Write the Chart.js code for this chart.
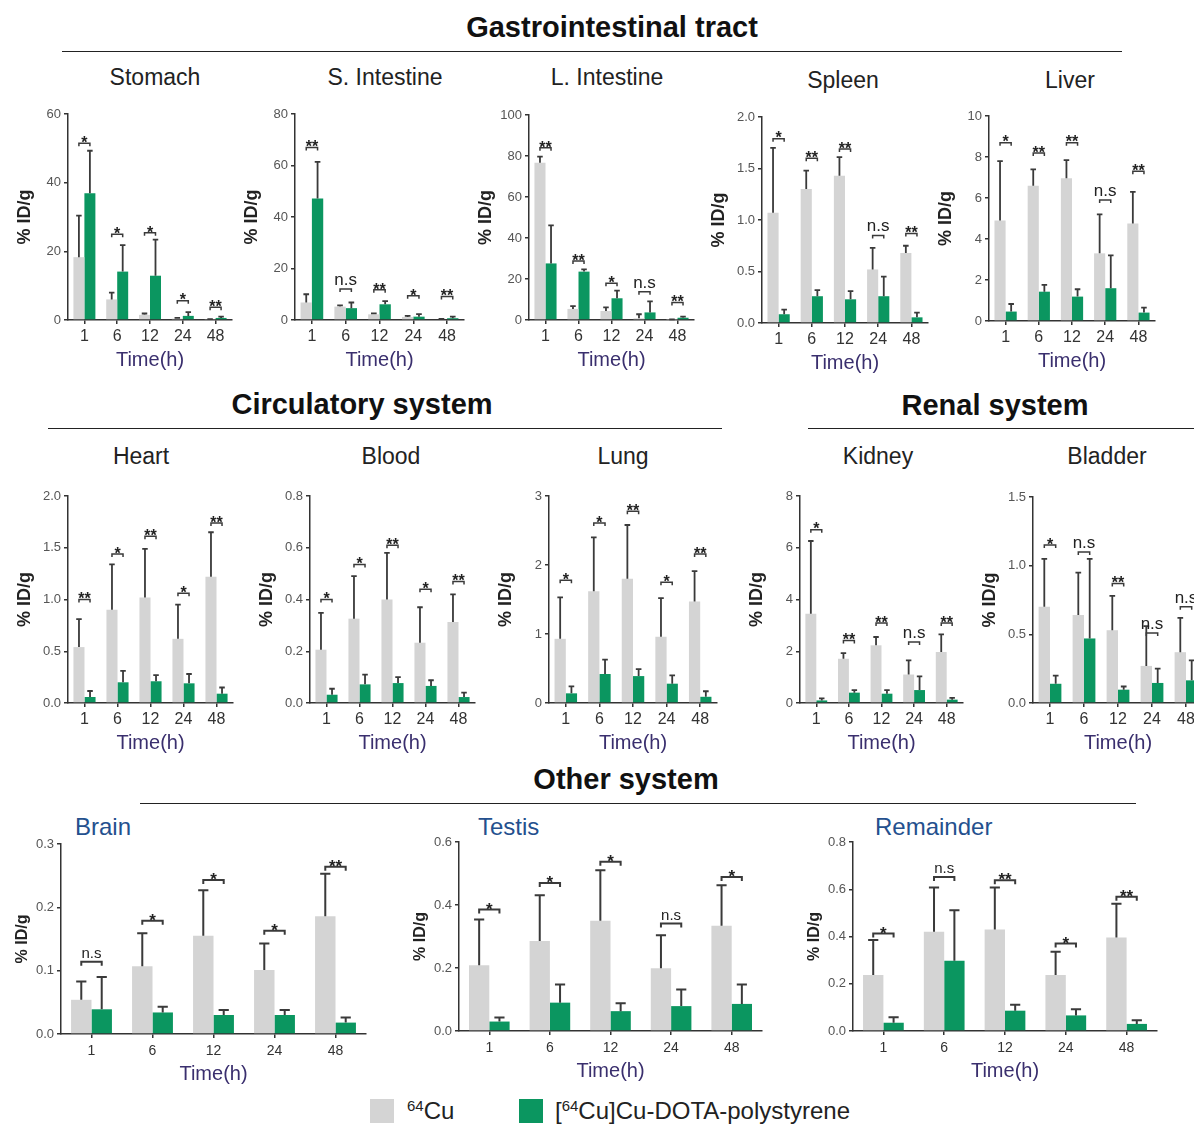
<!DOCTYPE html>
<html>
<head>
<meta charset="utf-8">
<script src="https://cdn.jsdelivr.net/npm/chart.js@4.4.0/dist/chart.umd.min.js"></script>
<style>
body { margin:0; width:1194px; height:1127px; overflow:hidden; background:#fff; position:relative; font-family:"Liberation Sans", Arial, sans-serif; }
canvas { position:absolute; }
.sec { position:absolute; font-weight:bold; font-size:29px; color:#111; transform:translate(-50%,-50%); white-space:nowrap; }
.rule { position:absolute; height:0; border-top:1.5px solid #222; }
.pt { position:absolute; font-size:23px; color:#222; transform:translate(-50%,-50%); white-space:nowrap; }
.pt3 { position:absolute; font-size:24px; color:#24508e; transform:translateY(-50%); white-space:nowrap; }
.leg { position:absolute; top:1099px; width:24px; height:24px; }
.legt { position:absolute; top:1097px; font-size:24px; color:#222; white-space:nowrap; }
.legt sup { font-size:15px; vertical-align:8px; line-height:0; }
</style>
</head>
<body>

<div class="sec" style="left:612px;top:27px">Gastrointestinal tract</div>
<div class="rule" style="left:62px;top:51px;width:1060px"></div>
<div class="sec" style="left:362px;top:404px">Circulatory system</div>
<div class="rule" style="left:48px;top:428px;width:674px"></div>
<div class="sec" style="left:995px;top:405px">Renal system</div>
<div class="rule" style="left:808px;top:428px;width:386px"></div>
<div class="sec" style="left:626px;top:779px">Other system</div>
<div class="rule" style="left:140px;top:803px;width:996px"></div>

<div class="leg" style="left:370px;background:#d4d4d4"></div>
<div class="legt" style="left:407px"><sup>64</sup>Cu</div>
<div class="leg" style="left:519px;background:#0b9660"></div>
<div class="legt" style="left:555px">[<sup>64</sup>Cu]Cu-DOTA-polystyrene</div>

<script>
// time points (h)
const times = ['1', '6', '12', '24', '48'];

// mean %ID/g, upper SD, significance label and bracket height per organ
const stomachCu = [18.3, 6.0, 1.5, 0.4, 0.15];
const stomachCuSd = [12.1, 2.0, 0.4, 0.2, 0.1];
const stomachPs = [36.9, 14.1, 12.9, 1.2, 0.6];
const stomachPsSd = [12.4, 7.7, 10.5, 1.1, 0.4];
const stomachSig = ['*', '*', '*', '*', '**'];
const stomachSigY = [51.5, 25, 25.4, 5.6, 3.7];

const sintCu = [6.8, 5.2, 2.2, 1.2, 0.3];
const sintCuSd = [3.2, 0.5, 0.4, 0.4, 0.1];
const sintPs = [47.2, 4.6, 6.1, 1.3, 0.7];
const sintPsSd = [14.2, 2.2, 1.2, 1.0, 0.6];
const sintSig = ['**', 'n.s', '**', '*', '**'];
const sintSigY = [67, 12, 11.7, 9.4, 9.1];

const lintCu = [76.7, 5.4, 4.4, 0.8, 0.2];
const lintCuSd = [3.0, 1.4, 1.8, 2.0, 0.1];
const lintPs = [27.6, 23.6, 10.6, 3.7, 1.1];
const lintPsSd = [18.6, 1.1, 3.7, 5.4, 0.5];
const lintSig = ['**', '**', '*', 'n.s', '**'];
const lintSigY = [84, 28.8, 17.9, 13.8, 8.5];

const spleenCu = [1.07, 1.30, 1.43, 0.52, 0.68];
const spleenCuSd = [0.63, 0.18, 0.18, 0.21, 0.07];
const spleenPs = [0.085, 0.26, 0.23, 0.26, 0.055];
const spleenPsSd = [0.045, 0.06, 0.08, 0.19, 0.045];
const spleenSig = ['*', '**', '**', 'n.s', '**'];
const spleenSigY = [1.79, 1.60, 1.69, 0.85, 0.87];

const liverCu = [4.9, 6.6, 6.96, 3.3, 4.76];
const liverCuSd = [2.9, 0.8, 0.89, 1.9, 1.54];
const liverPs = [0.46, 1.43, 1.19, 1.6, 0.41];
const liverPsSd = [0.37, 0.33, 0.36, 1.6, 0.24];
const liverSig = ['*', '**', '**', 'n.s', '**'];
const liverSigY = [8.7, 8.2, 8.7, 5.9, 7.3];

const heartCu = [0.54, 0.90, 1.02, 0.62, 1.22];
const heartCuSd = [0.27, 0.44, 0.47, 0.33, 0.43];
const heartPs = [0.058, 0.20, 0.21, 0.19, 0.09];
const heartPsSd = [0.058, 0.11, 0.06, 0.09, 0.06];
const heartSig = ['**', '*', '**', '*', '**'];
const heartSigY = [1.0, 1.44, 1.61, 1.06, 1.74];

const bloodCu = [0.206, 0.326, 0.40, 0.233, 0.313];
const bloodCuSd = [0.142, 0.164, 0.18, 0.137, 0.107];
const bloodPs = [0.032, 0.072, 0.077, 0.066, 0.023];
const bloodPsSd = [0.023, 0.038, 0.023, 0.022, 0.017];
const bloodSig = ['*', '*', '**', '*', '**'];
const bloodSigY = [0.40, 0.535, 0.61, 0.44, 0.47];

const lungCu = [0.93, 1.62, 1.80, 0.96, 1.47];
const lungCuSd = [0.60, 0.78, 0.78, 0.56, 0.44];
const lungPs = [0.14, 0.42, 0.39, 0.28, 0.09];
const lungPsSd = [0.10, 0.21, 0.10, 0.12, 0.08];
const lungSig = ['*', '*', '**', '*', '**'];
const lungSigY = [1.78, 2.61, 2.78, 1.75, 2.16];

const kidneyCu = [3.45, 1.71, 2.23, 1.10, 1.97];
const kidneyCuSd = [2.81, 0.22, 0.32, 0.55, 0.68];
const kidneyPs = [0.10, 0.40, 0.36, 0.50, 0.13];
const kidneyPsSd = [0.08, 0.10, 0.14, 0.53, 0.07];
const kidneySig = ['*', '**', '**', 'n.s', '**'];
const kidneySigY = [6.7, 2.42, 3.09, 2.36, 3.09];

const bladderCu = [0.70, 0.64, 0.53, 0.27, 0.37];
const bladderCuSd = [0.35, 0.31, 0.25, 0.29, 0.25];
const bladderPs = [0.14, 0.47, 0.097, 0.146, 0.165];
const bladderPsSd = [0.06, 0.58, 0.023, 0.104, 0.145];
const bladderSig = ['*', 'n.s', '**', 'n.s', 'n.s'];
const bladderSigY = [1.15, 1.10, 0.87, 0.51, 0.70];

const brainCu = [0.054, 0.107, 0.155, 0.101, 0.186];
const brainCuSd = [0.029, 0.052, 0.072, 0.042, 0.067];
const brainPs = [0.039, 0.034, 0.030, 0.030, 0.018];
const brainPsSd = [0.051, 0.009, 0.008, 0.008, 0.008];
const brainSig = ['n.s', '*', '*', '*', '**'];
const brainSigY = [0.114, 0.179, 0.243, 0.163, 0.264];

const testisCu = [0.209, 0.286, 0.35, 0.199, 0.334];
const testisCuSd = [0.145, 0.145, 0.16, 0.105, 0.129];
const testisPs = [0.03, 0.09, 0.063, 0.079, 0.086];
const testisPsSd = [0.013, 0.058, 0.025, 0.053, 0.062];
const testisSig = ['*', '*', '*', 'n.s', '*'];
const testisSigY = [0.386, 0.47, 0.537, 0.341, 0.489];

const remainderCu = [0.237, 0.42, 0.43, 0.237, 0.396];
const remainderCuSd = [0.148, 0.187, 0.177, 0.098, 0.143];
const remainderPs = [0.035, 0.297, 0.086, 0.066, 0.03];
const remainderPsSd = [0.023, 0.214, 0.025, 0.026, 0.016];
const remainderSig = ['*', 'n.s', '**', '*', '**'];
const remainderSigY = [0.413, 0.652, 0.638, 0.37, 0.568];

const grey = '#d4d4d4';
const green = '#0b9660';
const ink = '#3a3a3a';

// draws the upper SD whiskers and the significance brackets
const errPlugin = {
    id: 'errbars',
    afterDatasetsDraw(chart) {
        const ctx = chart.ctx;
        const ys = chart.scales.y;
        const row3 = chart.options.row3;
        ctx.save();
        ctx.strokeStyle = ink;
        ctx.lineWidth = row3 ? 2 : 1.8;
        chart.data.datasets.forEach((ds, di) => {
            const meta = chart.getDatasetMeta(di);
            meta.data.forEach((bar, i) => {
                const top = ys.getPixelForValue(ds.data[i] + ds.sd[i]);
                const cap = bar.width * 0.5;
                ctx.beginPath();
                ctx.moveTo(bar.x, bar.y);
                ctx.lineTo(bar.x, top);
                ctx.moveTo(bar.x - cap / 2, top);
                ctx.lineTo(bar.x + cap / 2, top);
                ctx.stroke();
            });
        });
        const a = chart.getDatasetMeta(0).data;
        const b = chart.getDatasetMeta(1).data;
        const sig = chart.options.sig;
        const sigY = chart.options.sigY;
        ctx.lineWidth = row3 ? 2 : 1.5;
        ctx.fillStyle = '#222';
        ctx.textAlign = 'center';
        ctx.textBaseline = 'alphabetic';
        for (let i = 0; i < sig.length; i++) {
            const x1 = a[i].x, x2 = b[i].x;
            const y = ys.getPixelForValue(sigY[i]);
            const t = row3 ? 4 : 3;
            ctx.beginPath();
            ctx.moveTo(x1, y + t);
            ctx.lineTo(x1, y);
            ctx.lineTo(x2, y);
            ctx.lineTo(x2, y + t);
            ctx.stroke();
            if (sig[i] === 'n.s') {
                ctx.font = (row3 ? '15px' : '17px') + ' "Liberation Sans", Arial';
                ctx.fillText('n.s', (x1 + x2) / 2, y - 4);
            } else {
                const fs = row3 ? 17 : 16;
                ctx.font = 'bold ' + fs + 'px "Liberation Sans", Arial';
                ctx.fillText(sig[i], (x1 + x2) / 2, y - 2 + 0.42 * fs);
            }
        }
        ctx.restore();
    }
};

const panels = [
    {title: 'Stomach', cu: stomachCu, cuSd: stomachCuSd, ps: stomachPs, psSd: stomachPsSd, sig: stomachSig, sigY: stomachSigY, max: 60, step: 20, dec: 0, L: 68, R: 232, T: 114, B: 320, tx: 155, ty: 77},
    {title: 'S. Intestine', cu: sintCu, cuSd: sintCuSd, ps: sintPs, psSd: sintPsSd, sig: sintSig, sigY: sintSigY, max: 80, step: 20, dec: 0, L: 295, R: 464, T: 114, B: 320, tx: 385, ty: 77},
    {title: 'L. Intestine', cu: lintCu, cuSd: lintCuSd, ps: lintPs, psSd: lintPsSd, sig: lintSig, sigY: lintSigY, max: 100, step: 20, dec: 0, L: 529, R: 694, T: 115, B: 320, tx: 607, ty: 77},
    {title: 'Spleen', cu: spleenCu, cuSd: spleenCuSd, ps: spleenPs, psSd: spleenPsSd, sig: spleenSig, sigY: spleenSigY, max: 2, step: 0.5, dec: 1, L: 762, R: 928, T: 117, B: 323, tx: 843, ty: 80},
    {title: 'Liver', cu: liverCu, cuSd: liverCuSd, ps: liverPs, psSd: liverPsSd, sig: liverSig, sigY: liverSigY, max: 10, step: 2, dec: 0, L: 989, R: 1155, T: 116, B: 321, tx: 1070, ty: 80},
    {title: 'Heart', cu: heartCu, cuSd: heartCuSd, ps: heartPs, psSd: heartPsSd, sig: heartSig, sigY: heartSigY, max: 2, step: 0.5, dec: 1, L: 68, R: 233, T: 496, B: 703, tx: 141, ty: 456},
    {title: 'Blood', cu: bloodCu, cuSd: bloodCuSd, ps: bloodPs, psSd: bloodPsSd, sig: bloodSig, sigY: bloodSigY, max: 0.8, step: 0.2, dec: 1, L: 310, R: 475, T: 496, B: 703, tx: 391, ty: 456},
    {title: 'Lung', cu: lungCu, cuSd: lungCuSd, ps: lungPs, psSd: lungPsSd, sig: lungSig, sigY: lungSigY, max: 3, step: 1, dec: 0, L: 549, R: 717, T: 496, B: 703, tx: 623, ty: 456},
    {title: 'Kidney', cu: kidneyCu, cuSd: kidneyCuSd, ps: kidneyPs, psSd: kidneyPsSd, sig: kidneySig, sigY: kidneySigY, max: 8, step: 2, dec: 0, L: 800, R: 963, T: 496, B: 703, tx: 878, ty: 456},
    {title: 'Bladder', cu: bladderCu, cuSd: bladderCuSd, ps: bladderPs, psSd: bladderPsSd, sig: bladderSig, sigY: bladderSigY, max: 1.5, step: 0.5, dec: 1, L: 1033, R: 1203, T: 497, B: 703, tx: 1107, ty: 456},
    {title: 'Brain', cu: brainCu, cuSd: brainCuSd, ps: brainPs, psSd: brainPsSd, sig: brainSig, sigY: brainSigY, max: 0.3, step: 0.1, dec: 1, L: 61, R: 366, T: 844, B: 1034, tx: 75, ty: 827, row3: true},
    {title: 'Testis', cu: testisCu, cuSd: testisCuSd, ps: testisPs, psSd: testisPsSd, sig: testisSig, sigY: testisSigY, max: 0.6, step: 0.2, dec: 1, L: 459, R: 762, T: 842, B: 1031, tx: 478, ty: 827, row3: true},
    {title: 'Remainder', cu: remainderCu, cuSd: remainderCuSd, ps: remainderPs, psSd: remainderPsSd, sig: remainderSig, sigY: remainderSigY, max: 0.8, step: 0.2, dec: 1, L: 853, R: 1157, T: 842, B: 1031, tx: 875, ty: 827, row3: true}
];

function makeChart(p) {
    const yW = p.row3 ? 48 : 54;
    const xH = p.row3 ? 52 : 52;
    const padTop = 12, padR = 12;

    const lab = document.createElement('div');
    lab.className = p.row3 ? 'pt3' : 'pt';
    lab.style.left = p.tx + 'px';
    lab.style.top = p.ty + 'px';
    lab.textContent = p.title;
    document.body.appendChild(lab);

    const cv = document.createElement('canvas');
    cv.width = p.R - p.L + yW + padR;
    cv.height = p.B - p.T + padTop + xH;
    cv.style.left = (p.L - yW) + 'px';
    cv.style.top = (p.T - padTop) + 'px';
    document.body.appendChild(cv);

    new Chart(cv, {
        type: 'bar',
        data: {
            labels: times,
            datasets: [
                {label: '64Cu', data: p.cu, sd: p.cuSd, backgroundColor: grey},
                {label: '[64Cu]Cu-DOTA-polystyrene', data: p.ps, sd: p.psSd, backgroundColor: green}
            ]
        },
        options: {
            responsive: false,
            animation: false,
            devicePixelRatio: 1,
            row3: !!p.row3,
            sig: p.sig,
            sigY: p.sigY,
            layout: {padding: {top: padTop, right: padR, left: 0, bottom: 0}},
            plugins: {legend: {display: false}, tooltip: {enabled: false}},
            datasets: {bar: {barPercentage: 1, categoryPercentage: 0.67}},
            scales: {
                x: {
                    offset: true,
                    grid: {drawOnChartArea: false, drawTicks: true, tickLength: 4, offset: false, color: '#333', lineWidth: 1.5},
                    border: {color: '#333', width: 1.5},
                    ticks: {color: '#333', padding: p.row3 ? 5 : 3, font: {size: p.row3 ? 14 : 16, family: '"Liberation Sans", Arial'}},
                    title: {display: true, text: 'Time(h)', color: '#3a2f6e', padding: 0, font: {size: 20, family: '"Liberation Sans", Arial'}},
                    afterFit(s) { s.height = xH; }
                },
                y: {
                    min: 0,
                    max: p.max,
                    grid: {drawOnChartArea: false, drawTicks: true, tickLength: 4, color: '#333', lineWidth: 1.5},
                    border: {color: '#333', width: 1.5},
                    ticks: {stepSize: p.step, color: '#555', padding: 3, font: {size: 13, family: '"Liberation Sans", Arial'},
                        callback: v => Number(v).toFixed(p.dec)},
                    title: {display: true, text: '% ID/g', color: '#222', padding: 0, font: {size: p.row3 ? 16 : 18, weight: 'bold', family: '"Liberation Sans", Arial'}},
                    afterFit(s) { s.width = yW; }
                }
            }
        },
        plugins: [errPlugin]
    });
}

panels.forEach(makeChart);
</script>
</body>
</html>
